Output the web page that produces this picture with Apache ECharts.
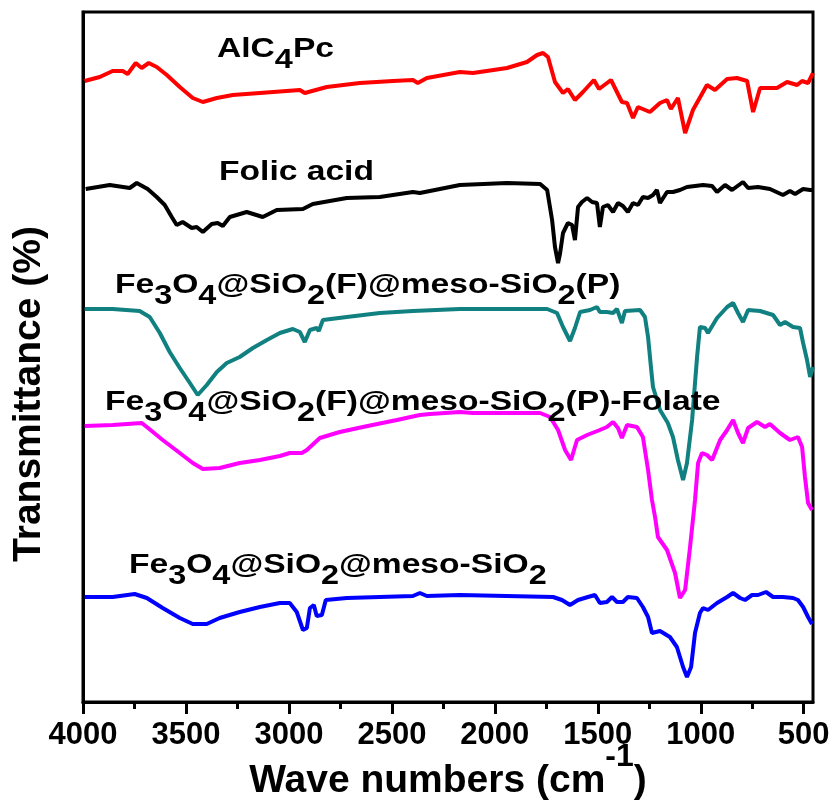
<!DOCTYPE html>
<html><head><meta charset="utf-8">
<script src="https://cdn.jsdelivr.net/npm/echarts@6/dist/echarts.min.js"></script>
<style>html,body{margin:0;padding:0;background:#fff}#c{width:834px;height:809px}</style>
</head><body><div id="c"></div>
<script>
// Wavenumber axis (cm-1), drawn reversed
const xMin = 455, xMax = 4000;
const majorTicks = [4000, 3500, 3000, 2500, 2000, 1500, 1000, 500];
const minorTicks = [3750, 3250, 2750, 2250, 1750, 1250, 750];

// AlC4Pc (red)
const alc4pcWn = [3992,3919,3856,3807,3783,3744,3715,3681,3642,3593,3530,3467,3418,3350,3273,3141,2947,2923,2816,2656,2495,2398,2374,2330,2170,2106,1941,1844,1795,1766,1742,1708,1669,1645,1611,1572,1519,1494,1436,1383,1358,1329,1305,1247,1198,1164,1145,1111,1076,1038,970,931,872,824,775,746,712,630,581,532,508,479,455];
const alc4pcT  = [621,625,631,631,628,639,634,639,635,627,615,604,600,604,607,609,612,609,615,619,621,622,619,624,630,629,634,640,647,649,645,620,609,613,602,610,622,613,622,600,599,584,595,590,599,602,593,604,569,592,617,612,623,624,621,590,614,614,620,617,621,619,629];

// Folic acid (black)
const folicWn = [3987,3870,3773,3739,3686,3642,3603,3569,3545,3516,3472,3448,3418,3375,3346,3321,3287,3205,3127,3059,2932,2884,2719,2559,2398,2364,2170,1941,1780,1746,1722,1708,1693,1683,1669,1645,1625,1611,1596,1577,1552,1528,1504,1490,1475,1451,1426,1402,1378,1354,1329,1305,1281,1256,1232,1213,1198,1164,1135,1101,1067,989,945,921,882,848,795,770,722,664,601,567,542,503,469,455];
const folicT  = [513,517,514,519,513,505,497,485,477,480,474,475,470,478,479,476,485,490,485,492,493,498,504,505,510,509,517,519,518,512,482,455,439,449,469,479,477,462,495,500,504,500,499,475,495,497,490,499,496,490,499,497,505,504,507,512,499,510,510,512,515,517,516,510,517,512,520,514,515,513,507,511,508,513,512,512];

// Fe3O4@SiO2(F)@meso-SiO2(P) (teal)
const fspWn = [3992,3856,3725,3676,3627,3579,3530,3481,3443,3399,3350,3302,3239,3175,3107,3044,2981,2947,2923,2898,2865,2855,2835,2719,2559,2398,2170,1941,1746,1698,1669,1635,1611,1586,1538,1504,1490,1456,1426,1407,1383,1368,1295,1271,1256,1242,1232,1198,1160,1135,1111,1086,1067,1042,1018,1004,979,965,921,872,843,819,795,770,712,649,615,591,552,518,503,484,469,455];
const fspT  = [393,393,391,385,369,350,334,319,307,317,330,339,345,354,362,369,373,370,360,372,374,371,382,385,389,391,393,393,393,389,375,361,374,390,392,395,390,390,389,393,379,391,392,385,365,335,315,292,279,265,242,222,239,282,345,375,374,369,384,395,399,389,380,392,391,387,377,380,375,374,359,342,325,335];

// Fe3O4@SiO2(F)@meso-SiO2(P)-Folate (magenta)
const folateWn = [3992,3856,3715,3690,3613,3530,3467,3418,3336,3239,3141,3044,2996,2937,2913,2850,2753,2641,2476,2364,2315,2170,2106,1780,1732,1693,1659,1630,1601,1552,1490,1456,1426,1402,1383,1358,1310,1281,1256,1237,1222,1208,1164,1125,1101,1076,1052,1028,1013,994,970,945,906,872,843,819,795,770,727,688,664,615,567,528,508,494,479,460];
const folateT  = [276,277,279,275,262,249,239,233,234,239,242,246,249,249,252,264,270,275,282,287,288,290,289,289,285,272,252,242,262,267,272,275,280,274,264,277,275,265,232,202,185,165,152,129,104,112,155,202,239,249,247,242,262,272,282,269,259,274,280,275,278,269,262,265,255,225,199,192];

// Fe3O4@SiO2@meso-SiO2 (blue)
const baseWn = [3992,3856,3749,3690,3613,3530,3467,3399,3336,3239,3141,3044,2996,2962,2932,2913,2898,2879,2865,2840,2821,2719,2559,2398,2364,2330,2170,1717,1674,1635,1596,1548,1514,1490,1456,1431,1407,1378,1354,1310,1281,1256,1237,1218,1198,1150,1116,1086,1067,1047,1028,1004,989,965,921,872,843,809,785,751,722,683,649,601,552,528,503,479,460];
const baseT  = [105,105,108,104,94,84,78,78,84,90,95,99,99,90,72,74,94,97,86,87,102,104,105,106,109,106,107,105,102,97,102,105,107,99,100,105,100,100,105,104,95,85,69,70,71,65,55,35,25,35,69,89,94,92,99,105,109,104,102,107,107,110,105,105,104,102,95,85,78];

const seriesNames = ['AlC4Pc', 'Folic acid', 'Fe3O4@SiO2(F)@meso-SiO2(P)', 'Fe3O4@SiO2(F)@meso-SiO2(P)-Folate', 'Fe3O4@SiO2@meso-SiO2'];
const seriesWn = [alc4pcWn, folicWn, fspWn, folateWn, baseWn];
const seriesT = [alc4pcT, folicT, fspT, folateT, baseT];
const seriesColors = ['#ff0000', '#000000', '#108080', '#ff00ff', '#0000ff'];

// Curve labels (rich text: n = normal, s = subscript)
const curveLabels = [
  '{n|AlC}{s|4}{n|Pc}',
  '{n|Folic acid}',
  '{n|Fe}{s|3}{n|O}{s|4}{n|@SiO}{s|2}{n|(F)@meso-SiO}{s|2}{n|(P)}',
  '{n|Fe}{s|3}{n|O}{s|4}{n|@SiO}{s|2}{n|(F)@meso-SiO}{s|2}{n|(P)-Folate}',
  '{n|Fe}{s|3}{n|O}{s|4}{n|@SiO}{s|2}{n|@meso-SiO}{s|2}'
];
const labelPos = [[217, 35], [219, 158], [115, 271], [105, 388], [129, 551]];

const FF = "'Liberation Sans', Arial, Helvetica, sans-serif";
const richStyle = {
  n: {fontSize: 28, fontWeight: 'bold', fontFamily: FF, fill: '#000', color: '#000'},
  s: {fontSize: 27, fontWeight: 'bold', fontFamily: FF, fill: '#000', color: '#000', padding: [24, 0, 0, 0]}
};

const chart = echarts.init(document.getElementById('c'), null, {renderer: 'canvas'});
chart.setOption({
  animation: false,
  backgroundColor: '#fff',
  grid: {left: 83, right: 21, top: 12, bottom: 107, show: true, borderColor: '#000', borderWidth: 3, outerBoundsMode: 'none', containLabel: false},
  xAxis: [{
    type: 'value', min: xMin, max: xMax, inverse: true, position: 'bottom',
    axisLine: {show: true, lineStyle: {color: '#000', width: 3}},
    axisTick: {show: true, inside: false, length: 12, lineStyle: {color: '#000', width: 3}, customValues: majorTicks},
    axisLabel: {show: true, customValues: majorTicks, formatter: v => String(v), fontSize: 31, fontWeight: 'bold', fontFamily: FF, color: '#000', margin: 18},
    splitLine: {show: false},
    name: '{n|Wave numbers (cm}{sup|-1}{n|)}',
    nameLocation: 'middle', nameGap: 39, nameMoveOverlap: false,
    nameTextStyle: {rich: {
      n: {fontSize: 39, fontWeight: 'bold', fontFamily: FF, color: '#000', lineHeight: 60, verticalAlign: 'bottom'},
      sup: {fontSize: 32, fontWeight: 'bold', fontFamily: FF, color: '#000', lineHeight: 16, verticalAlign: 'top'}
    }}
  }, {
    type: 'value', min: xMin, max: xMax, inverse: true, position: 'bottom',
    axisLine: {show: false},
    axisTick: {show: true, inside: false, length: 7, lineStyle: {color: '#000', width: 3}, customValues: minorTicks},
    axisLabel: {show: false},
    splitLine: {show: false}
  }],
  yAxis: {
    type: 'value', min: 0, max: 690,
    axisLine: {show: true, lineStyle: {color: '#000', width: 3}},
    axisTick: {show: false}, axisLabel: {show: false}, splitLine: {show: false},
    name: 'Transmittance (%)', nameLocation: 'middle', nameRotate: 90, nameGap: 34, nameMoveOverlap: false,
    nameTextStyle: {fontSize: 39, fontWeight: 'bold', fontFamily: FF, color: '#000', padding: [0, 74, 0, 0]}
  },
  series: seriesNames.map((nm, i) => ({
    name: nm, type: 'line', xAxisIndex: 0, yAxisIndex: 0,
    data: seriesWn[i].map((w, j) => [w, seriesT[i][j]]),
    showSymbol: false, symbol: 'none', smooth: false,
    lineStyle: {color: seriesColors[i], width: 4},
    itemStyle: {color: seriesColors[i]}, z: 3
  })),
  graphic: curveLabels.map((t, i) => ({
    type: 'text', left: labelPos[i][0], top: labelPos[i][1], z: 10, scaleX: 1.2,
    style: {text: t, rich: richStyle, fill: '#000', font: 'bold 28px ' + FF}
  }))
});
</script></body></html>
